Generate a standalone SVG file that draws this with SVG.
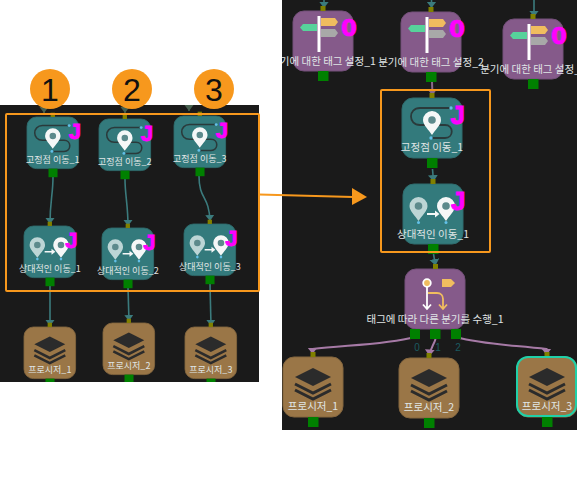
<svg xmlns="http://www.w3.org/2000/svg" width="577" height="490" viewBox="0 0 577 490">
<style>
text{font-family:"Noto Sans CJK KR","Liberation Sans",sans-serif}
.bg{fill:#1a1a1a}
.n{stroke-width:1}
.teal{fill:#337a7c;stroke:#2f6c6e}
.pur{fill:#855a8a;stroke:#74507a}
.brn{fill:#9a7647;stroke:#84663f}
.pb{fill:#008000}
.pt{fill:#808000}
.lb{fill:#e0e6e6;font-size:10.5px;text-anchor:middle}
.j{fill:#ff00ff;stroke:#ff00ff;stroke-width:1px;font:bold 26px "Liberation Sans",sans-serif}
.z{fill:#ff00ff;stroke:#ff00ff;stroke-width:.7px;font:bold 23px "DejaVu Sans",sans-serif}
.c{fill:none;stroke:#3b7b7d;stroke-width:1.6}
.s{marker-end:url(#aS)}
.b{marker-end:url(#aB)}
.v{fill:none;stroke:#a67aa6;stroke-width:2;marker-end:url(#aV)}
.o{fill:#f7981d}
.num{fill:#111;font:32px "Liberation Sans",sans-serif;text-anchor:middle}
.p{fill:#1a5a60;font:10px "Liberation Sans",sans-serif;text-anchor:middle}
.ow{fill:#f5f7f7}
.hole{fill:#5d8a8c}
.dot{fill:#62c0e8}
</style>
<defs>
<marker id="aS" markerUnits="userSpaceOnUse" markerWidth="8" markerHeight="10" refX="6" refY="4.500" orient="auto"><path d="M0 0L6 4.500L0 9Z" fill="#3b7b7d"/></marker>
<marker id="aB" markerUnits="userSpaceOnUse" markerWidth="8" markerHeight="11" refX="6.500" refY="5" orient="auto"><path d="M0 0L6.500 5L0 10Z" fill="#3b7b7d"/></marker>
<marker id="aV" markerUnits="userSpaceOnUse" markerWidth="8" markerHeight="11" refX="6.500" refY="5" orient="auto"><path d="M0 0L6.500 5L0 10Z" fill="#a67aa6"/></marker>
<marker id="aP" markerUnits="userSpaceOnUse" markerWidth="8" markerHeight="11" refX="6.500" refY="5" orient="auto"><path d="M0 0L6.500 5L0 10Z" fill="#8a6a8a"/></marker>
<marker id="aD" markerUnits="userSpaceOnUse" markerWidth="8" markerHeight="10" refX="6" refY="4.500" orient="auto"><path d="M0 0L6 4.500L0 9Z" fill="#47604f"/></marker>
<clipPath id="panels"><rect x="0" y="105" width="259" height="277"/><rect x="282" y="0" width="295" height="430"/></clipPath>
<path id="pin" d="M0-9A9 9 0 0 1 9 0C9 5 3 10 0 15C-3 10-9 5-9 0A9 9 0 0 1 0-9Z"/>
<g id="fixed">
<rect class="n teal" width="60" height="60" rx="11"/>
<rect class="pt" x="27.500" y="-5" width="5" height="5"/>
<rect class="pb" x="25" y="60" width="10.500" height="10"/>
<path d="M49 10H18C6 10 6 27 18 27H43C52 27 52 40 43 40H29" fill="none" stroke="#2a3a3b" stroke-width="1.800"/>
<circle class="dot" cx="49" cy="10" r="1.700"/><circle class="dot" cx="29" cy="40" r="1.700"/>
<use href="#pin" x="30" y="22" class="ow"/><circle class="hole" cx="30" cy="22" r="3.800"/>
<text class="j" x="48.500" y="26">J</text>
</g>
<g id="relative">
<rect class="n teal" width="60" height="60" rx="11"/>
<rect class="pt" x="27.500" y="-5" width="5" height="5"/>
<rect class="pb" x="25" y="60" width="10.500" height="10"/>
<use href="#pin" x="15.500" y="22" fill="#bcd5d5"/><circle class="hole" cx="15.500" cy="22" r="3.800"/>
<use href="#pin" x="43" y="22" class="ow"/><circle class="hole" cx="43" cy="22" r="3.800"/>
<circle class="dot" cx="15.500" cy="38.500" r="1.500"/><circle class="dot" cx="43" cy="38.500" r="1.500"/>
<path d="M24 30H33" stroke="#f5f7f7" stroke-width="1.800"/><path d="M32 26.500L36.500 30L32 33.500Z" class="ow"/>
<text class="j" x="48" y="26">J</text>
</g>
<g id="proc">
<rect class="n brn" width="60" height="60" rx="11"/>
<rect class="pt" x="27.500" y="-5" width="5" height="5"/>
<rect class="pb" x="25" y="60" width="10.500" height="10"/>
<path d="M30 11L48 20L30 29L12 20Z" fill="#2b2b2b"/>
<path d="M12 27L30 36L48 27M12 33L30 42L48 33" fill="none" stroke="#2b2b2b" stroke-width="3"/>
</g>
<g id="tag">
<rect class="n pur" width="60" height="60" rx="11"/>
<rect class="pt" x="27.500" y="-5" width="5" height="5"/>
<rect class="pb" x="25" y="60" width="10.500" height="10"/>
<path d="M28 7H42L45 11L42 15H28Z" fill="#f0bd5f"/>
<path d="M28 18H42L45 22L42 26H28Z" fill="#a8a8a8"/>
<path d="M24 13H10L7 16.500L10 20H24Z" fill="#57d29b"/>
<rect x="24.500" y="5" width="3" height="36" fill="#fff"/>
<text class="z" x="48" y="25">0</text>
</g>
</defs>

<rect class="bg" x="0" y="105" width="259" height="277"/>
<rect class="bg" x="282" y="0" width="295" height="430"/>

<g clip-path="url(#panels)">
<g id="connectors">
<path d="M44 100V113" fill="none" stroke="#47604f" stroke-width="1.500" marker-end="url(#aD)"/>
<path d="M125 100V113" fill="none" stroke="#47604f" stroke-width="1.500" marker-end="url(#aD)"/>
<path d="M189 100V111" fill="none" stroke="#47604f" stroke-width="1.500" marker-end="url(#aD)"/>
<path class="c s" d="M53 177C53 195 50 200 50 224"/>
<path class="c s" d="M125 179C125 195 128 205 128 226"/>
<path class="c s" d="M199 176C199 200 209 195 210 221"/>
<path class="c s" d="M50 286V326"/>
<path class="c s" d="M128 288L129 321"/>
<path class="c s" d="M210 284L211 326"/>
<path class="c b" d="M324 -5V8"/>
<path class="c b" d="M431.500 -5V8"/>
<path class="c b" d="M534 -5V17"/>
<path d="M432 82L432.500 95.500" fill="none" stroke="#8a6a8a" stroke-width="2" marker-end="url(#aP)"/>
<path class="c b" d="M432.500 169L433.500 181.500"/>
<path class="c b" d="M433.500 254L435.500 265.500"/>
<path class="v" d="M415 337C385 345 345 345 312.500 349C312.500 351 312.500 352 312.500 354"/>
<path class="v" d="M435.500 339C434 345 430 348 429.500 356"/>
<path class="v" d="M456 337C485 345 515 345 546.500 349C546.500 351 546.500 352 546.500 355"/>
</g>

<g id="n-fixed1" transform="translate(27 117) scale(.86)"><use href="#fixed"/><text class="lb" x="30" y="53">고정점 이동_1</text></g>
<g id="n-fixed2" transform="translate(99 119) scale(.86)"><use href="#fixed"/><text class="lb" x="30" y="53">고정점 이동_2</text></g>
<g id="n-fixed3" transform="translate(174 116) scale(.86)"><use href="#fixed"/><text class="lb" x="30" y="53">고정점 이동_3</text></g>
<g id="n-rel1" transform="translate(24 226) scale(.86)"><use href="#relative"/><text class="lb" x="30" y="53">상대적인 이동_1</text></g>
<g id="n-rel2" transform="translate(102 228) scale(.86)"><use href="#relative"/><text class="lb" x="30" y="53">상대적인 이동_2</text></g>
<g id="n-rel3" transform="translate(184 224) scale(.86)"><use href="#relative"/><text class="lb" x="30" y="53">상대적인 이동_3</text></g>
<g id="n-proc1" transform="translate(24 327) scale(.86)"><use href="#proc"/><text class="lb" x="30" y="53">프로시저_1</text></g>
<g id="n-proc2" transform="translate(103 323) scale(.86)"><use href="#proc"/><text class="lb" x="30" y="53">프로시저_2</text></g>
<g id="n-proc3" transform="translate(185 327) scale(.86)"><use href="#proc"/><text class="lb" x="30" y="53">프로시저_3</text></g>

<g id="r-tag1" transform="translate(293 11)"><use href="#tag"/><text class="lb" x="30" y="54">분기에 대한 태그 설정_1</text></g>
<g id="r-tag2" transform="translate(401 12)"><use href="#tag"/><text class="lb" x="30" y="54">분기에 대한 태그 설정_2</text></g>
<g id="r-tag3" transform="translate(503 19)"><use href="#tag"/><text class="lb" x="30" y="54">분기에 대한 태그 설정_3</text></g>
<g id="r-fixed1" transform="translate(402 98)"><use href="#fixed"/><text class="lb" x="30" y="53">고정점 이동_1</text></g>
<g id="r-rel1" transform="translate(403 184)"><use href="#relative"/><text class="lb" x="30" y="53.500">상대적인 이동_1</text></g>
<g id="r-branch" transform="translate(405 269)">
<rect class="n pur" width="60" height="60" rx="11"/>
<rect class="pt" x="28" y="-5" width="5" height="5"/>
<rect class="pb" x="5" y="60" width="10" height="10"/><rect class="pb" x="25" y="60" width="10.500" height="10"/><rect class="pb" x="46" y="60" width="10" height="10"/>
<path d="M22 18V40M18 35.500L22 40L26 35.500" fill="none" stroke="#fff" stroke-width="1.800"/>
<path d="M23 24H32C36 24 38 27 38 30V40M34 35.500L38 40L42 35.500" fill="none" stroke="#f0bd5f" stroke-width="1.800"/>
<circle cx="22" cy="14" r="3.800" fill="#f0bd5f" stroke="#fff" stroke-width="1.800"/>
<path d="M37 10H46L50 14L46 18H37Z" fill="#f0bd5f"/>
<text class="lb" x="30" y="54">태그에 따라 다른 분기를 수행_1</text>
<text class="p" x="12" y="82">0</text><text class="p" x="33" y="82">1</text><text class="p" x="53" y="82">2</text>
</g>
<g id="r-proc1" transform="translate(283 357)"><use href="#proc"/><text class="lb" x="30" y="53">프로시저_1</text></g>
<g id="r-proc2" transform="translate(399 358)"><use href="#proc"/><text class="lb" x="30" y="53">프로시저_2</text></g>
<g id="r-proc3" transform="translate(517 357)"><use href="#proc"/><rect width="59" height="59" rx="11" fill="none" stroke="#20d0a8" stroke-width="2"/><text class="lb" x="30" y="53">프로시저_3</text></g>
</g>

<g id="highlights" fill="none" stroke="#f7981d" stroke-width="2">
<rect x="6" y="114" width="253" height="177" rx="1"/>
<rect x="381" y="90" width="109" height="162" rx="1"/>
</g>
<g id="callout">
<path d="M259 194.500L353 197" stroke="#f7981d" stroke-width="2"/>
<path d="M352 188L367 197L352 205Z" class="o"/>
</g>
<g id="badge1"><circle class="o" cx="50" cy="89" r="20"/><text class="num" x="50" y="101">1</text></g>
<g id="badge2"><circle class="o" cx="132" cy="89" r="20"/><text class="num" x="132" y="101">2</text></g>
<g id="badge3"><circle class="o" cx="214" cy="89" r="20"/><text class="num" x="214" y="101">3</text></g>
</svg>
